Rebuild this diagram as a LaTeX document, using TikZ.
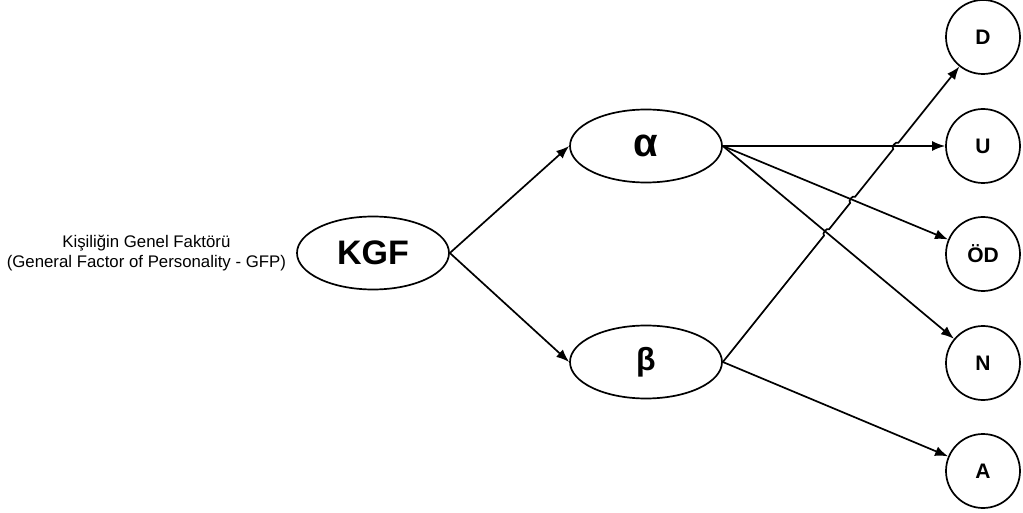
\documentclass[tikz,border=0pt]{standalone}
\usepackage{fontspec}
\setmainfont{Liberation Sans}
\usetikzlibrary{shapes.geometric,positioning,arrows.meta,intersections,calc}

\tikzset{
  factor/.style={ellipse, draw, line width=1.7pt, minimum width=152pt,
    minimum height=73pt, inner sep=0pt, font=\bfseries\fontsize{32}{36}\selectfont},
  trait/.style={circle, draw, line width=1.7pt, minimum size=74pt,
    inner sep=0pt, font=\bfseries\fontsize{21}{24}\selectfont},
  link/.style={-{Latex[length=13pt,width=10pt]}, line width=1.7pt}
}

\begin{document}
\begin{tikzpicture}[x=1pt, y=-1pt]
  \useasboundingbox (0,0) rectangle (1023,513);

  \node[factor, font=\bfseries\fontsize{34}{38}\selectfont] (kgf) at (373,253) {KGF};
  \node[left=10pt of kgf, align=center, inner sep=0pt,
    font=\fontsize{16.8}{20.5}\selectfont] (gfp)
    {Kişiliğin Genel Faktörü\\(General Factor of Personality - GFP)};

  \node[factor, font=\bfseries\fontsize{40}{44}\selectfont] (alpha) at (646,146) {α};
  \node[factor] (beta) at (646,362) {β};

  \foreach \id/\lab/\y in {d/D/37, u/U/146, od/ÖD/254, n/N/363, a/A/471}
    \node[trait] (\id) at (983,\y) {\lab};

  \draw[link] (kgf.east) -- (alpha.west);
  \draw[link] (kgf.east) -- (beta.west);

  \draw[link, name path=au] (alpha.east) -- (u);
  \draw[link, name path=aod] (alpha.east) -- (od);
  \draw[link, name path=an] (alpha.east) -- (n);

  \path[name path=bd] (beta.east) -- (d);
  \path[name intersections={of=bd and an, by=hn}];
  \path[name intersections={of=bd and aod, by=hod}];
  \path[name intersections={of=bd and au, by=hu}];

  \draw[link] (beta.east)
    -- ($(hn)!4pt!(beta.east)$) to[bend left=90] ($(hn)!-4pt!(beta.east)$)
    -- ($(hod)!4pt!(beta.east)$) to[bend left=90] ($(hod)!-4pt!(beta.east)$)
    -- ($(hu)!4pt!(beta.east)$) to[bend left=90] ($(hu)!-4pt!(beta.east)$)
    -- (d);
  \draw[link] (beta.east) -- (a);
\end{tikzpicture}
\end{document}
